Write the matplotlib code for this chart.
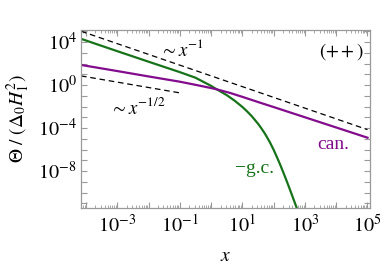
import numpy as np
import matplotlib
matplotlib.use("Agg")
import matplotlib.pyplot as plt
from matplotlib.ticker import FixedLocator, LogLocator, NullFormatter

plt.rcParams['font.family'] = ['Liberation Serif', 'DejaVu Serif']
plt.rcParams['mathtext.fontset'] = 'stix'

# ---- data (log10 values) ----
green_logx = [-4.16, -3.0, -2.0, -1.0, -0.5, 0.0, 0.18, 0.5, 0.75, 1.0, 1.15, 1.3, 1.5, 1.6,
              1.72, 1.88, 2.0, 2.1, 2.2, 2.3, 2.4, 2.5, 2.6, 2.7, 2.8]
green_logy = [4.3, 3.15, 2.17, 1.2, 0.68, -0.08, -0.40, -0.94, -1.45, -2.04, -2.45, -2.9, -3.6, -4.0,
              -4.52, -5.33, -6.03, -6.68, -7.35, -8.07, -8.81, -9.57, -10.35, -11.14, -11.94]

purple_logx = [-4.16, -3.0, -2.0, -1.0, -0.5, 0.0, 0.18, 0.6, 1.0, 1.5, 2.0, 3.0, 4.0, 5.0]
purple_logy = [1.87, 1.30, 0.80, 0.31, 0.02, -0.28, -0.40, -0.73, -1.1, -1.58, -2.05, -3.0, -3.95, -4.9]

dash1_logx = [-4.16, 5.0]
dash1_logy = [5.01, -4.15]

dash2_logx = [-4.16, -1.0]
dash2_logy = [0.85, -0.73]

xtick_exp = [-3, -1, 1, 3, 5]
ytick_exp = [4, 0, -4, -8]

green_c = '#17731a'
purple_c = '#820c8c'
frame_c = '#9a9a9a'

fig = plt.figure(figsize=(3.82, 2.74), dpi=100)
ax = fig.add_axes([81/382, 1-208/274, 289/382, 178/274])

def pw(a):
    return [10**v for v in a]

ax.plot(pw(dash1_logx), pw(dash1_logy), color='black', lw=0.9, ls=(0, (4.5, 3)))
ax.plot(pw(dash2_logx), pw(dash2_logy), color='black', lw=0.9, ls=(0, (4.5, 3)))
ax.plot(pw(green_logx), pw(green_logy), color=green_c, lw=1.6)
ax.plot(pw(purple_logx), pw(purple_logy), color=purple_c, lw=1.6)

ax.set_xscale('log')
ax.set_yscale('log')
ax.set_xlim(10**-4.16, 10**5.08)
ax.set_ylim(10**-11.44, 10**5.12)

# x ticks
ax.xaxis.set_major_locator(FixedLocator([10.0**e for e in range(-4, 6)]))
ax.xaxis.set_minor_locator(LogLocator(base=10, subs=np.arange(2, 10), numticks=30))
ax.set_xticklabels(['' if e not in xtick_exp else r'$10^{%d}$' % e for e in range(-4, 6)])
ax.xaxis.set_minor_formatter(NullFormatter())
# y ticks
ax.yaxis.set_major_locator(FixedLocator([10.0**e for e in range(-11, 6)]))
ax.yaxis.set_minor_locator(FixedLocator([]))
ax.set_yticklabels(['' if e not in ytick_exp else r'$10^{%d}$' % e for e in range(-11, 6)])

ax.tick_params(which='both', direction='in', top=True, right=True, color=frame_c,
               labelsize=14.5)
ax.tick_params(axis='x', pad=5)
ax.tick_params(axis='y', pad=3)
ax.tick_params(which='major', length=4.5, width=0.8)
ax.tick_params(which='minor', length=2.5, width=0.6)
for s in ax.spines.values():
    s.set_color(frame_c)
    s.set_linewidth(0.9)

ax.set_xlabel(r'$x$', fontsize=14, labelpad=8)
ax.set_ylabel(r'$\Theta\ /\ (\Delta_0 H_1^2)$', fontsize=14, labelpad=4)

ax.text(0.35, 0.888, r'$\sim x^{-1}$', transform=ax.transAxes, fontsize=13.5,
        ha='center', va='center')
ax.text(0.90, 0.879, r'$(++)$', transform=ax.transAxes, fontsize=13.5,
        ha='center', va='center')
ax.text(0.197, 0.562, r'$\sim x^{-1/2}$', transform=ax.transAxes, fontsize=13.5,
        ha='center', va='center')
ax.text(0.872, 0.354, 'can.', transform=ax.transAxes, fontsize=14,
        ha='center', va='center', color=purple_c)
ax.text(0.602, 0.222, '\u2212g.c.', transform=ax.transAxes, fontsize=14,
        ha='center', va='center', color=green_c)

fig.savefig('out.png', dpi=100)
